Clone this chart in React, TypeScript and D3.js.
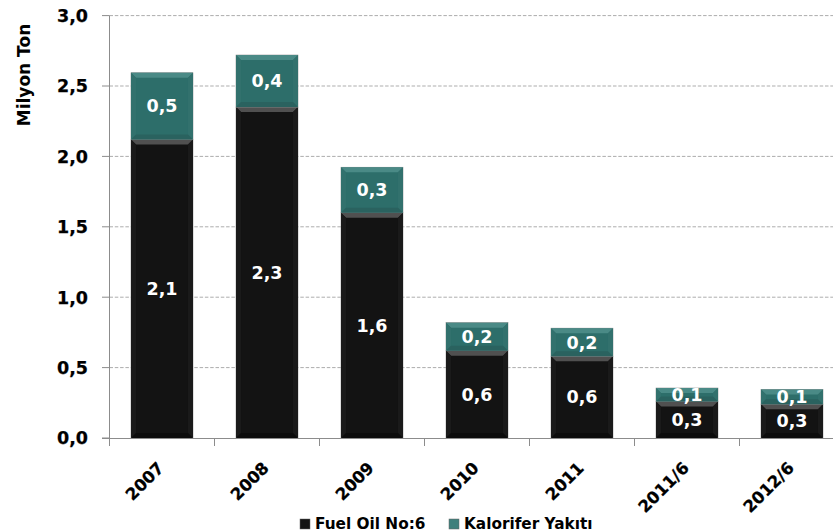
import React from "react";
import * as d3 from "d3";

const categories = ["2007", "2008", "2009", "2010", "2011", "2011/6", "2012/6"];
const fuelOil = [2.12, 2.35, 1.6, 0.62, 0.58, 0.26, 0.24];
const kalorifer = [0.474, 0.37, 0.323, 0.199, 0.2, 0.095, 0.105];
const fuelLabels = ["2,1", "2,3", "1,6", "0,6", "0,6", "0,3", "0,3"];
const kalLabels = ["0,5", "0,4", "0,3", "0,2", "0,2", "0,1", "0,1"];
const yTicks = [0, 0.5, 1, 1.5, 2, 2.5, 3];
const seriesNames = ["Fuel Oil No:6", "Kalorifer Yakıtı"];

const W = 833;
const H = 532;
const FONT = "'DejaVu Sans', Verdana, sans-serif";

const x = d3.scaleBand<string>().domain(categories).range([109.5, 844.5]).paddingInner(0.41).paddingOuter(0.205);
const y = d3.scaleLinear().domain([0, 3]).range([438, 15.6]);
const fmt = (v: number) => d3.format(".1f")(v).replace(".", ",");

function BevelRect({ x0, y0, w, h, base, top, side, bottom }: any) {
  const b = Math.min(5, h / 2);
  return (
    <g>
      <rect x={x0} y={y0} width={w} height={h} fill={base} stroke="#8a8a8a" strokeWidth={0.6} />
      <polygon points={`${x0},${y0} ${x0 + w},${y0} ${x0 + w - b},${y0 + b} ${x0 + b},${y0 + b}`} fill={top} />
      <polygon points={`${x0},${y0} ${x0 + b},${y0 + b} ${x0 + b},${y0 + h - b} ${x0},${y0 + h}`} fill={side} />
      <polygon points={`${x0 + w},${y0} ${x0 + w - b},${y0 + b} ${x0 + w - b},${y0 + h - b} ${x0 + w},${y0 + h}`} fill={side} />
      <polygon points={`${x0},${y0 + h} ${x0 + b},${y0 + h - b} ${x0 + w - b},${y0 + h - b} ${x0 + w},${y0 + h}`} fill={bottom} />
    </g>
  );
}

export default function App() {
  const bw = x.bandwidth();
  return (
    <svg width={W} height={H} style={{ position: "absolute", left: 0, top: 0, background: "#fff" }} fontFamily={FONT}>
      {yTicks.filter((t) => t > 0).map((t) => (
        <line key={t} x1={109.5} x2={W} y1={y(t)} y2={y(t)} stroke="#adadad" strokeWidth={1} strokeDasharray="3.5,1.8" />
      ))}
      <line x1={109.5} x2={109.5} y1={y(3)} y2={y(0)} stroke="#8c8c8c" strokeWidth={1} />
      {yTicks.map((t) => (
        <g key={t}>
          <line x1={102} x2={109.5} y1={y(t)} y2={y(t)} stroke="#8c8c8c" strokeWidth={1} />
          <text x={88} y={y(t)} dy="0.36em" textAnchor="end" fontSize={17.5} fontWeight="bold" fill="#000" stroke="#000" strokeWidth={0.25}>
            {fmt(t)}
          </text>
        </g>
      ))}
      <text transform={`translate(30,75) rotate(-90)`} textAnchor="middle" fontSize={17} fontWeight="bold" fill="#000">
        Milyon Ton
      </text>
      <line x1={102} x2={W} y1={438.5} y2={438.5} stroke="#8c8c8c" strokeWidth={1} />
      {categories.map((c, i) => {
        const xl = 109.5 + (i + 1) * x.step();
        return <line key={c} x1={xl} x2={xl} y1={438.5} y2={446} stroke="#8c8c8c" strokeWidth={1} />;
      })}
      <line x1={109.5} x2={109.5} y1={438.5} y2={446} stroke="#8c8c8c" strokeWidth={1} />
      {categories.map((c, i) => {
        const x0 = x(c)!;
        const yF = y(fuelOil[i]);
        const yK = y(fuelOil[i] + kalorifer[i]);
        const cx = x0 + bw / 2;
        return (
          <g key={c}>
            <BevelRect x0={x0} y0={yF} w={bw} h={y(0) - yF} base="#131313" top="#505050" side="#1a1a1a" bottom="#0c0c0c" />
            <BevelRect x0={x0} y0={yK} w={bw} h={yF - yK} base="#2d6e6a" top="#4a8a86" side="#32716d" bottom="#2a625f" />
            <text x={cx} y={(yF + y(0)) / 2} dy="0.36em" textAnchor="middle" fontSize={17.5} fontWeight="bold" fill="#fff">
              {fuelLabels[i]}
            </text>
            <text x={cx} y={(yF + yK) / 2} dy="0.36em" textAnchor="middle" fontSize={17.5} fontWeight="bold" fill="#fff">
              {kalLabels[i]}
            </text>
            <text transform={`translate(${cx + 3},469) rotate(-45)`} textAnchor="end" fontSize={16.5} fontWeight="bold" fill="#000" stroke="#000" strokeWidth={0.25}>
              {c}
            </text>
          </g>
        );
      })}
      <g>
        <rect x={300} y={519} width={10} height={10} fill="#131313" stroke="#666" strokeWidth={0.5} />
        <text x={315} y={528.5} fontSize={15.3} fontWeight="bold" fill="#000">{seriesNames[0]}</text>
        <rect x={449} y={519} width={10} height={10} fill="#3f807c" stroke="#666" strokeWidth={0.5} />
        <text x={464} y={528.5} fontSize={15.3} fontWeight="bold" fill="#000">{seriesNames[1]}</text>
      </g>
    </svg>
  );
}
